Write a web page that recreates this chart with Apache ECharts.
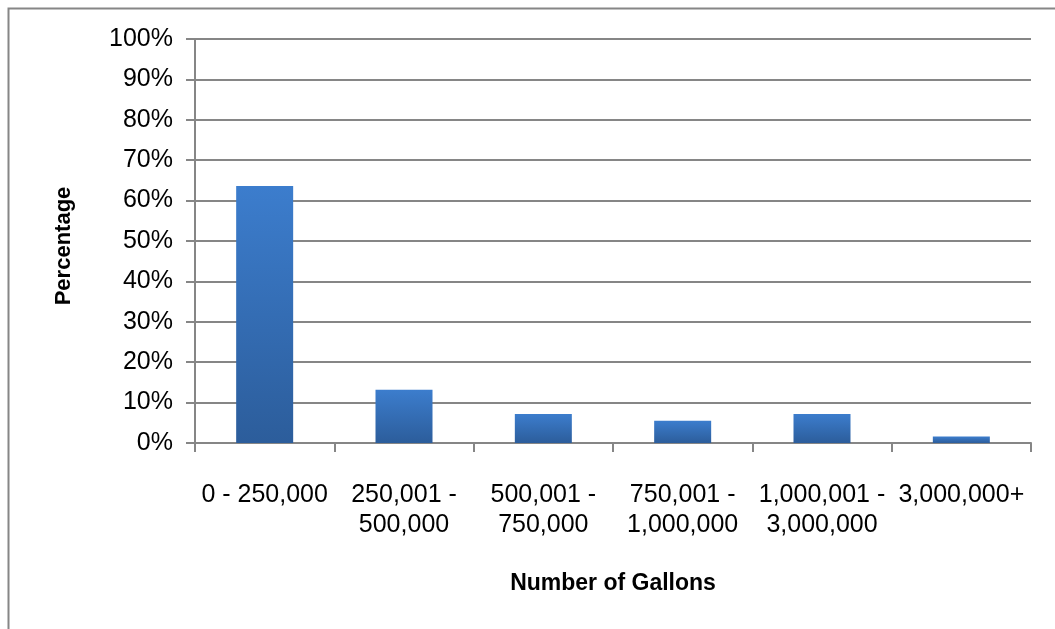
<!DOCTYPE html>
<html>
<head>
<meta charset="utf-8">
<script src="https://cdn.jsdelivr.net/npm/echarts@6/dist/echarts.min.js"></script>
<style>
  html, body { margin: 0; padding: 0; background: #fff; }
  #chart { width: 1055px; height: 629px; }
</style>
</head>
<body>
<div id="chart"></div>
<script>
// Distribution of accounts by gallons used
const categories = [
  '0 - 250,000',
  '250,001 -\n500,000',
  '500,001 -\n750,000',
  '750,001 -\n1,000,000',
  '1,000,001 -\n3,000,000',
  '3,000,000+'
];
const percentages = [63.6, 13.2, 7.2, 5.5, 7.2, 1.6];
const yTicks = { min: 0, max: 100, interval: 10 };

const gray = '#868686';
const font = 'Liberation Sans, Arial, sans-serif';

const chart = echarts.init(document.getElementById('chart'), null, { renderer: 'canvas' });
chart.setOption({
  animation: false,
  backgroundColor: '#fff',
  graphic: [{
    type: 'rect',
    shape: { x: 8.5, y: 8.5, width: 1200, height: 800 },
    style: { fill: 'none', stroke: gray, lineWidth: 2 },
    silent: true
  }],
  grid: { left: 195, right: 24, top: 39, bottom: 186, containLabel: false },
  xAxis: {
    type: 'category',
    data: categories,
    name: 'Number of Gallons',
    nameLocation: 'middle',
    nameGap: 129,
    nameTextStyle: { fontFamily: font, fontSize: 23, fontWeight: 'bold', color: '#000', letterSpacing: -0.4 },
    axisLine: { lineStyle: { color: gray, width: 2 } },
    axisTick: { show: true, alignWithLabel: false, length: 9, lineStyle: { color: gray, width: 2 } },
    axisLabel: { fontFamily: font, fontSize: 25, color: '#000', margin: 37, lineHeight: 30, interval: 0, letterSpacing: -0.1 }
  },
  yAxis: {
    type: 'value',
    min: yTicks.min,
    max: yTicks.max,
    interval: yTicks.interval,
    name: 'Percentage',
    nameLocation: 'middle',
    nameGap: 120,
    nameRotate: 90,
    nameTextStyle: { fontFamily: font, fontSize: 22, fontWeight: 'bold', color: '#000', letterSpacing: -0.4, padding: [0, 10, 0, 0] },
    axisLine: { show: true, lineStyle: { color: gray, width: 2 } },
    axisTick: { show: true, length: 9, lineStyle: { color: gray, width: 2 } },
    axisLabel: { fontFamily: font, fontSize: 25, color: '#000', margin: 22, formatter: '{value}%' },
    splitLine: { show: true, lineStyle: { color: gray, width: 2 } }
  },
  series: [{
    type: 'bar',
    data: percentages,
    barWidth: 57,
    itemStyle: {
      color: new echarts.graphic.LinearGradient(0, 0, 0, 1, [
        { offset: 0, color: '#3c7dcd' },
        { offset: 1, color: '#2c5d9b' }
      ])
    }
  }]
});
</script>
</body>
</html>
